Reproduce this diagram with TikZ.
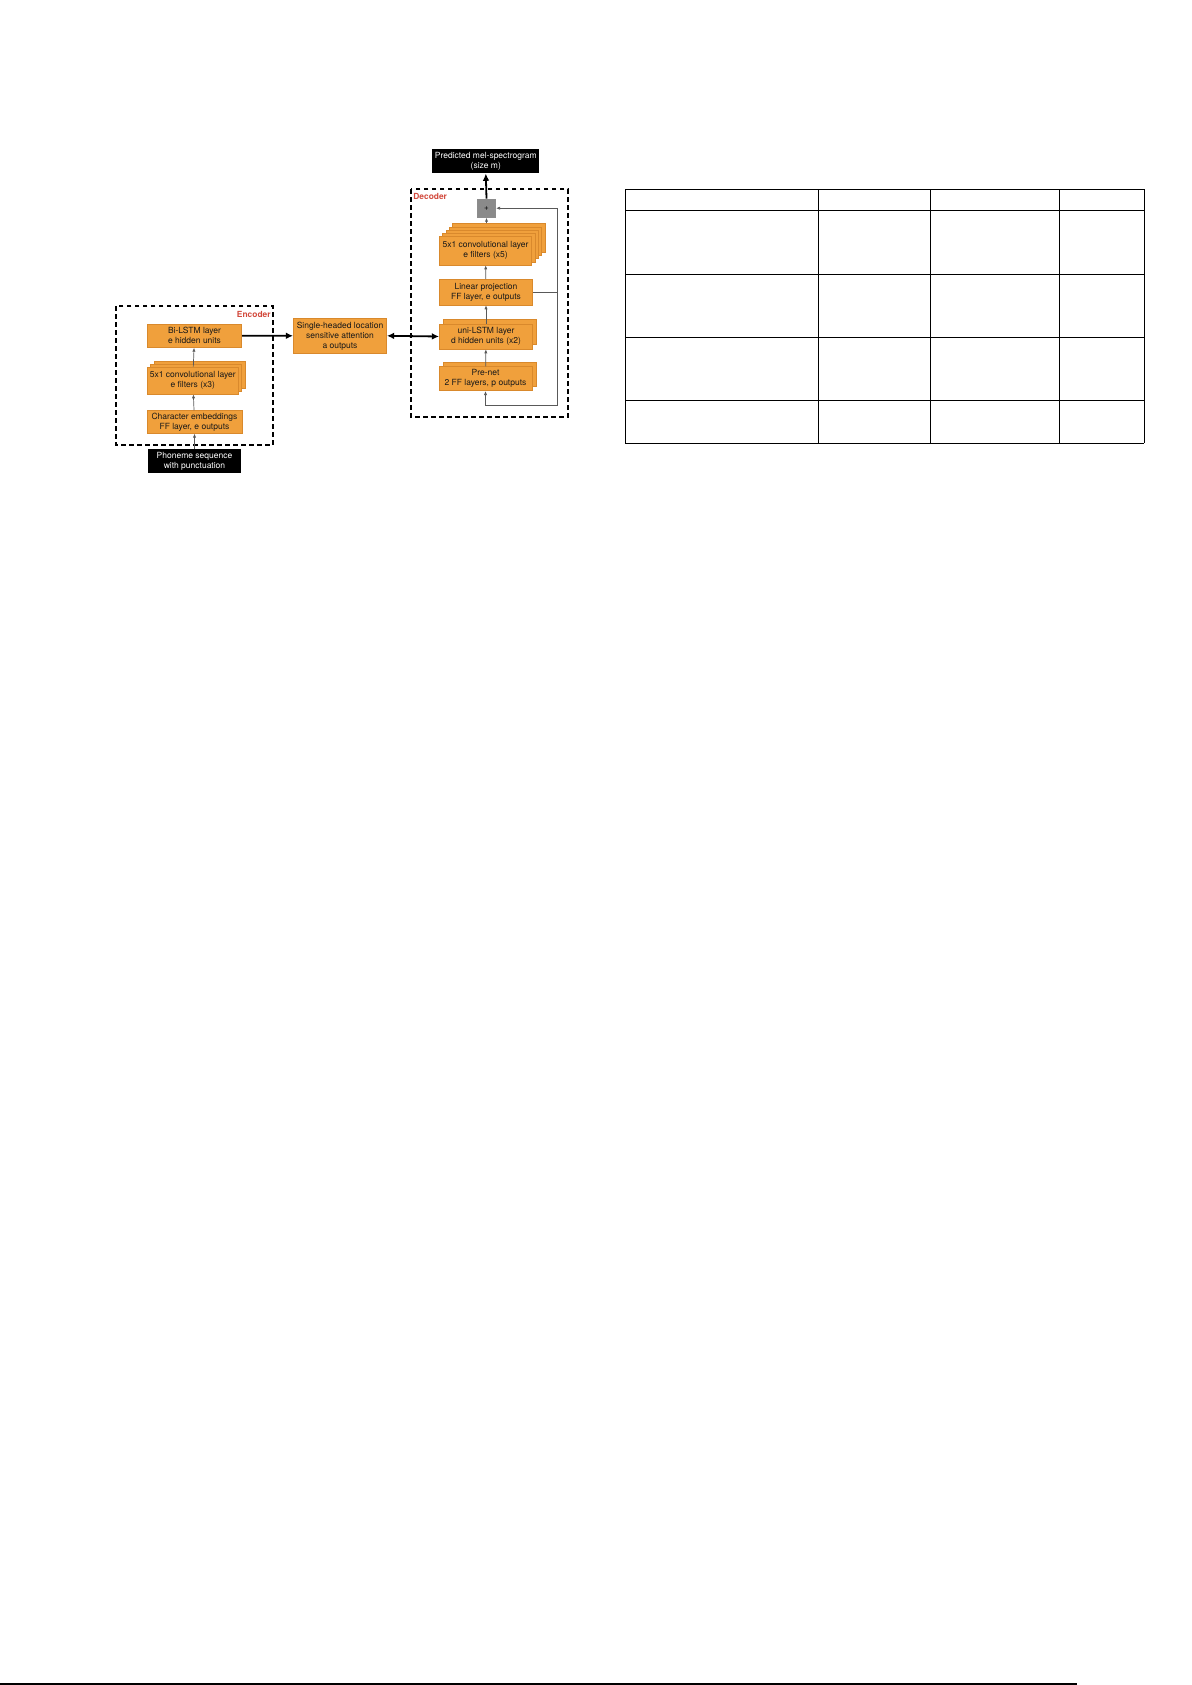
\documentclass[tikz,border=0pt]{standalone}
\usepackage{fontspec}
\setmainfont{TeX Gyre Heros}
\usetikzlibrary{arrows.meta,positioning}
\definecolor{boxorange}{HTML}{F0A03C}
\definecolor{edgeorange}{HTML}{D9892C}
\definecolor{labelred}{HTML}{D2493C}
\definecolor{plusgray}{HTML}{8A8A8A}

\begin{document}
\begin{tikzpicture}[x=0.5pt,y=-0.5pt,
    blk/.style = {rectangle, fill=boxorange, draw=edgeorange, line width=0.3pt,
                align=center, inner sep=0pt, text=black!90,
                font=\fontsize{4.25}{5}\selectfont, minimum width=#1},
    blk/.default = 46.7pt,  % width of the orange layers
    term/.style = {rectangle, fill=black, align=center, inner sep=0pt,
                text=white, font=\fontsize{4.25}{5}\selectfont},
    frame/.style = {draw, line width=1pt, dash pattern=on 2.4pt off 1.6pt},
    tag/.style = {text=labelred, font=\fontsize{4.2}{5}\selectfont\bfseries, inner sep=0pt},
    link/.style = {-{Latex[length=2pt,width=1.6pt]}, line width=0.35pt, draw=black!65},
    bigarrow/.style = {-{Latex[length=3.6pt,width=3.4pt]}, line width=0.9pt},
    tbl/.style = {line width=0.55pt}
                    ]
    \useasboundingbox (0,0) rectangle (1192,1685);
    \def\ex{194.5}
    \def\dx{486}
    \def\fbx{557.3}
    % encoder
    \draw[frame] (116,306) rectangle (272.7,445);
    \node[tag,anchor=east] (enc) at (271,314) {Encoder};
    \node[blk=47.2pt,minimum height=11.7pt] (bilstm) at (\ex,335.7) {Bi-LSTM layer\\e hidden units};
    \foreach \k in {2,1}
        \node[blk=45.5pt,minimum height=13.5pt] (cthree\k) at (192.8+3.4*\k,380.5-3.1*\k) {};
    \node[blk=45.5pt,minimum height=13.5pt] (conv3) at (192.8,380.5) {5x1 convolutional layer\\e filters (x3)};
    \node[blk=47.5pt,minimum height=11.3pt] (char) at (\ex,422) {Character embeddings\\FF layer, e outputs};
    \node[term,minimum width=46.5pt,minimum height=12pt] (phon) at (\ex,461) {Phoneme sequence\\with punctuation};
    \draw[link] (phon) -- (char);
    \draw[link] (char) -- (conv3);
    \draw[link] (conv3) -- (bilstm);
    % attention
    \node[blk=46.7pt,minimum height=17.5pt] (attn) at (340,335.8) {Single-headed location\\sensitive attention\\a outputs};
    % decoder
    \draw[frame] (411,189.3) rectangle (567.7,417.3);
    \node[tag,anchor=west] (dec) at (413,196) {Decoder};
    \node[term,minimum width=53.5pt,minimum height=12.2pt] (pred) at (485.8,161) {Predicted mel-spectrogram\\(size m)};
    \node[rectangle,fill=plusgray,draw=black!45,line width=0.3pt,minimum size=9.2pt,inner sep=0pt,
          font=\fontsize{4}{5}\selectfont] (plus) at (486.5,208.2) {+};
    \foreach \k in {4,...,1}
        \node[blk=46.2pt,minimum height=14.2pt] (cfive\k) at (485.5+3.3*\k,250.8-3.2*\k) {};
    \node[blk=46.2pt,minimum height=14.2pt] (conv5) at (485.5,250.8) {5x1 convolutional layer\\e filters (x5)};
    \node[blk=46.7pt,minimum height=12.8pt] (lin) at (\dx,292.2) {Linear projection\\FF layer, e outputs};
    \node[blk=46.7pt,minimum height=12.5pt] (unib) at (\dx+4,336.5-4.6) {};
    \node[blk=46.7pt,minimum height=12.5pt] (uni) at (\dx,336.5) {uni-LSTM layer\\d hidden units (x2)};
    \node[blk=46.5pt,minimum height=12pt] (preb) at (485.5+4.3,378.7-4.6) {};
    \node[blk=46.5pt,minimum height=12pt] (pre) at (485.5,378.7) {Pre-net\\2 FF layers, p outputs};
    \coordinate (fbtop) at (\fbx,208.2);
    \coordinate (fbbot) at (\fbx,405);
    \draw[link] (pre) -- (uni);
    \draw[link] (uni) -- (lin);
    \draw[link] (lin) -- (conv5);
    \draw[link] (plus.south |- cfive4.north) -- (plus.south);
    \draw[link] (lin.east) -| (fbtop) -- (plus.east);
    \draw[link] (fbtop |- lin.east) -- (fbbot) -| (pre.south);
    \draw[bigarrow] (plus.north) -- (pred.south);
    \draw[bigarrow] (bilstm.east) -- (attn.west);
    \draw[bigarrow,{Latex[length=3.6pt,width=3.4pt]}-{Latex[length=3.6pt,width=3.4pt]}] (attn.east) -- (uni.west);
    % table
    \foreach \ty in {189.3,210.3,274.3,337.3,400.3,443.3}
        \draw[tbl] (625.4,\ty) -- (1144.3,\ty);
    \foreach \tx in {625.4,818.2,930.4,1059.3,1144.3}
        \draw[tbl] (\tx,189.3) -- (\tx,443.3);
    % foot rule
    \draw[line width=0.6pt] (0,1684) -- (1077,1684);
\end{tikzpicture}
\end{document}
